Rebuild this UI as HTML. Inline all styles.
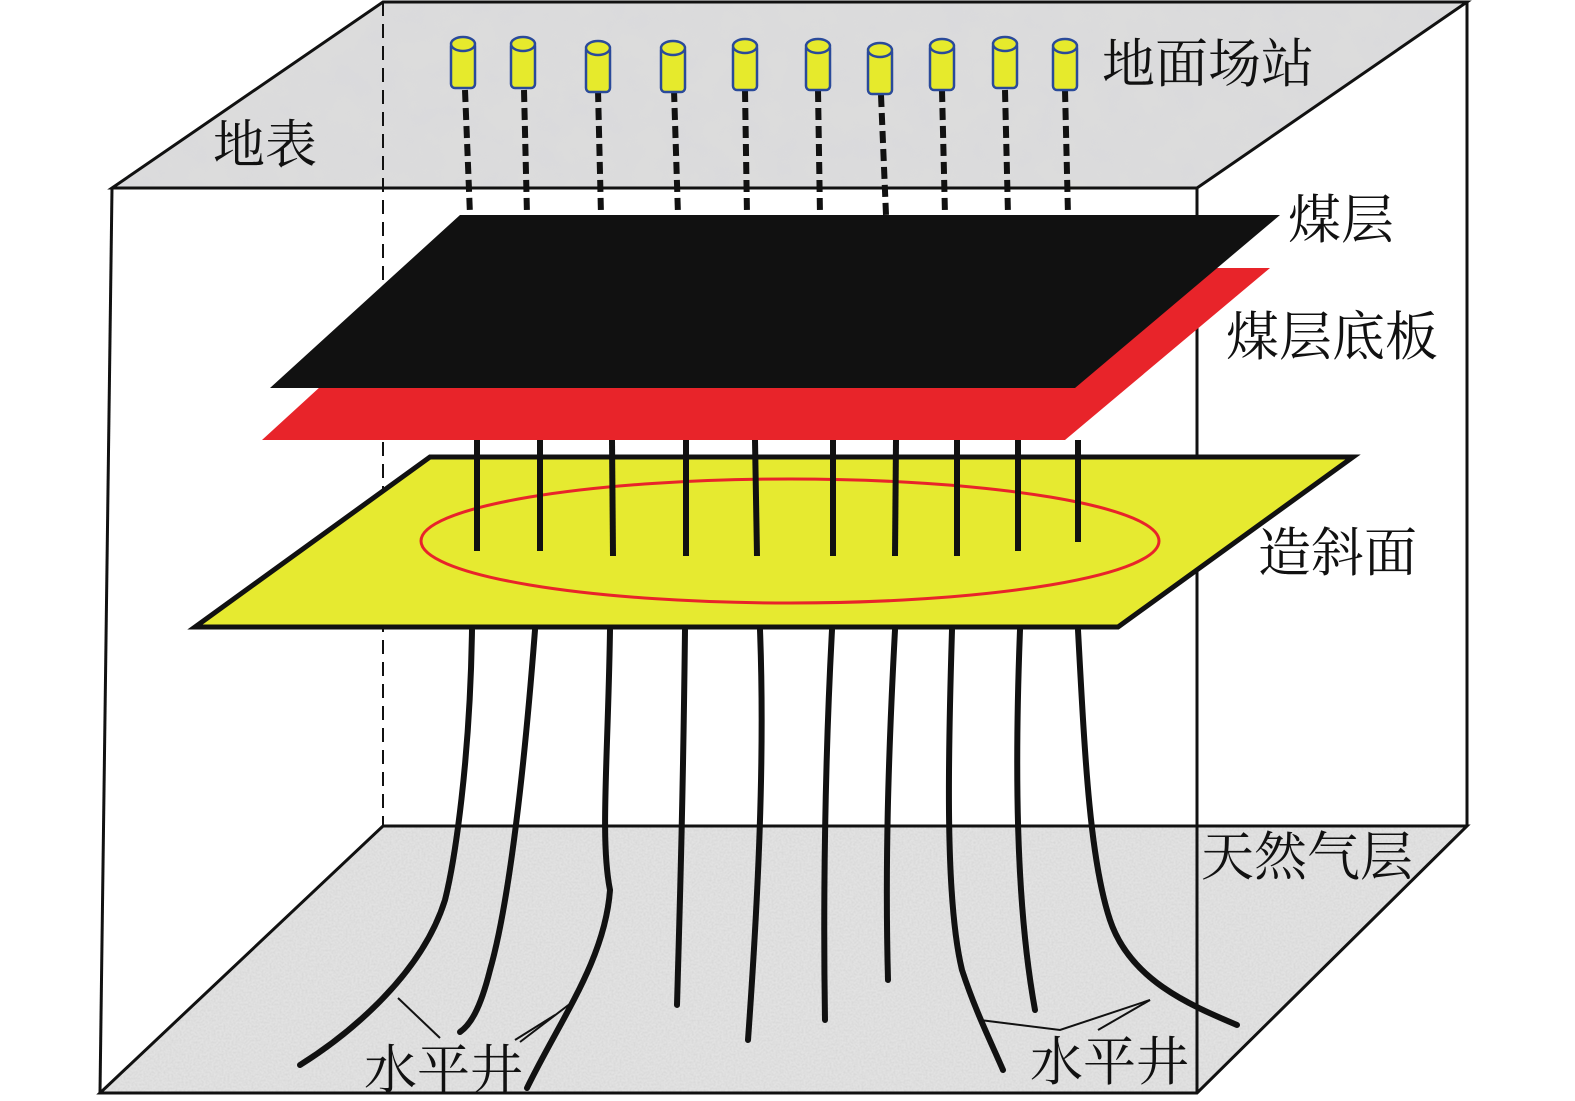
<!DOCTYPE html>
<html><head><meta charset="utf-8"><style>
html,body{margin:0;padding:0;background:#fff;}
svg{display:block;}
text{font-family:"Liberation Serif","Noto Serif CJK SC","Noto Sans CJK SC",serif;fill:#111;}
</style></head><body>
<svg width="1575" height="1101" viewBox="0 0 1575 1101" xmlns="http://www.w3.org/2000/svg">
<defs>
<filter id="n1" x="0" y="0" width="100%" height="100%">
<feTurbulence type="fractalNoise" baseFrequency="0.03" numOctaves="3" seed="3"/>
<feColorMatrix type="matrix" values="0 0 0 0 0.7  0 0 0 0 0.7  0 0 0 0 0.72  -1.6 0 0 0 1.2"/>
<feComposite in2="SourceGraphic" operator="in"/>
</filter>
<filter id="n2" x="0" y="0" width="100%" height="100%">
<feTurbulence type="fractalNoise" baseFrequency="0.5" numOctaves="2" seed="5"/>
<feColorMatrix type="matrix" values="0 0 0 0 0.6  0 0 0 0 0.6  0 0 0 0 0.6  -1.5 0 0 0 1.0"/>
<feComposite in2="SourceGraphic" operator="in"/>
</filter>
</defs>
<polygon points="112,188 383,2 1467,2 1197,188" fill="#dcdcdc"/>
<polygon points="112,188 383,2 1467,2 1197,188" fill="#fff" filter="url(#n1)"/>
<polygon points="112,188 383,2 1467,2 1197,188" fill="none" stroke="#111" stroke-width="3"/>
<polygon points="100,1093 383,826 1467,826 1197,1093" fill="#e2e2e2"/>
<polygon points="100,1093 383,826 1467,826 1197,1093" fill="#fff" filter="url(#n2)" opacity="0.6"/>
<polygon points="100,1093 383,826 1467,826 1197,1093" fill="none" stroke="#111" stroke-width="3"/>
<line x1="112" y1="188" x2="100" y2="1093" stroke="#111" stroke-width="3"/>
<line x1="1197" y1="188" x2="1197" y2="1093" stroke="#111" stroke-width="3"/>
<line x1="1467" y1="2" x2="1467" y2="826" stroke="#111" stroke-width="3"/>
<line x1="383" y1="2" x2="383" y2="826" stroke="#111" stroke-width="2" stroke-dasharray="14,8"/>
<g stroke="#111" stroke-width="6" stroke-dasharray="12,6">
<line x1="465" y1="90" x2="470" y2="215"/><line x1="524" y1="90" x2="527" y2="215"/>
<line x1="598" y1="90" x2="601" y2="215"/><line x1="674" y1="90" x2="678" y2="215"/>
<line x1="745" y1="90" x2="747" y2="215"/><line x1="818" y1="90" x2="820" y2="215"/>
<line x1="881" y1="95" x2="886" y2="215"/><line x1="942" y1="90" x2="945" y2="215"/>
<line x1="1005" y1="90" x2="1008" y2="215"/><line x1="1065" y1="90" x2="1068" y2="215"/>
</g>
<g fill="#e6ea2c" stroke="#2a4a9a" stroke-width="2.5">
<g transform="translate(463,0)"><rect x="-12" y="42" width="24" height="46" rx="4"/><ellipse cx="0" cy="44" rx="12" ry="7"/></g>
<g transform="translate(523,0)"><rect x="-12" y="42" width="24" height="46" rx="4"/><ellipse cx="0" cy="44" rx="12" ry="7"/></g>
<g transform="translate(598,0)"><rect x="-12" y="46" width="24" height="46" rx="4"/><ellipse cx="0" cy="48" rx="12" ry="7"/></g>
<g transform="translate(673,0)"><rect x="-12" y="46" width="24" height="46" rx="4"/><ellipse cx="0" cy="48" rx="12" ry="7"/></g>
<g transform="translate(745,0)"><rect x="-12" y="44" width="24" height="46" rx="4"/><ellipse cx="0" cy="46" rx="12" ry="7"/></g>
<g transform="translate(818,0)"><rect x="-12" y="44" width="24" height="46" rx="4"/><ellipse cx="0" cy="46" rx="12" ry="7"/></g>
<g transform="translate(880,0)"><rect x="-12" y="48" width="24" height="46" rx="4"/><ellipse cx="0" cy="50" rx="12" ry="7"/></g>
<g transform="translate(942,0)"><rect x="-12" y="44" width="24" height="46" rx="4"/><ellipse cx="0" cy="46" rx="12" ry="7"/></g>
<g transform="translate(1005,0)"><rect x="-12" y="42" width="24" height="46" rx="4"/><ellipse cx="0" cy="44" rx="12" ry="7"/></g>
<g transform="translate(1065,0)"><rect x="-12" y="44" width="24" height="46" rx="4"/><ellipse cx="0" cy="46" rx="12" ry="7"/></g>
</g>
<polygon points="262,440 450,268 1270,268 1065,440" fill="#e8242a"/>
<polygon points="270,388 460,215 1280,215 1075,388" fill="#111"/>
<polygon points="195,627 430,457 1353,457 1118,627" fill="#e6ea30" stroke="#111" stroke-width="5"/>
<ellipse cx="790" cy="541" rx="369" ry="62" fill="none" stroke="#e8242a" stroke-width="3"/>
<g stroke="#111" stroke-width="6">
<line x1="477" y1="440" x2="477" y2="551"/><line x1="540" y1="440" x2="540" y2="551"/>
<line x1="612" y1="440" x2="613" y2="556"/><line x1="686" y1="440" x2="686" y2="556"/>
<line x1="755" y1="440" x2="757" y2="556"/><line x1="833" y1="440" x2="833" y2="556"/>
<line x1="896" y1="440" x2="895" y2="556"/><line x1="957" y1="440" x2="957" y2="556"/>
<line x1="1018" y1="440" x2="1018" y2="551"/><line x1="1078" y1="440" x2="1078" y2="542"/>
</g>
<g stroke="#111" stroke-width="6" fill="none" stroke-linecap="round">
<path d="M472,630 C470,760 455,860 445,900 C420,980 340,1040 300,1065"/>
<path d="M535,630 C525,760 510,900 490,970 C480,1010 470,1025 460,1032"/>
<path d="M610,630 C608,760 600,840 610,890 C605,960 560,1020 527,1088"/>
<path d="M685,630 C683,800 680,900 677,1005"/>
<path d="M760,630 C765,760 758,900 748,1040"/>
<path d="M832,630 C825,760 823,900 825,1020"/>
<path d="M895,630 C888,760 885,870 888,980"/>
<path d="M952,630 C948,760 945,900 962,970 C975,1010 990,1040 1003,1070"/>
<path d="M1020,630 C1015,760 1015,900 1035,1010"/>
<path d="M1078,630 C1085,760 1090,860 1110,920 C1130,980 1190,1005 1237,1025"/>
</g>
<g stroke="#111" stroke-width="2" fill="none">
<polyline points="398,998 440,1038"/><polyline points="575,1000 520,1042"/><polyline points="555,1015 515,1040"/>
<polyline points="980,1020 1060,1030 1150,1000"/><polyline points="1098,1030 1150,1000"/>
</g>
<text x="213" y="163" font-size="52">地表</text>
<text x="1102" y="82" font-size="53">地面场站</text>
<text x="1288" y="238" font-size="53">煤层</text>
<text x="1226" y="355" font-size="53">煤层底板</text>
<text x="1258" y="571" font-size="53">造斜面</text>
<text x="1201" y="875" font-size="53">天然气层</text>
<text x="364" y="1088" font-size="53">水平井</text>
<text x="1030" y="1080" font-size="53">水平井</text>
</svg>
</body></html>
